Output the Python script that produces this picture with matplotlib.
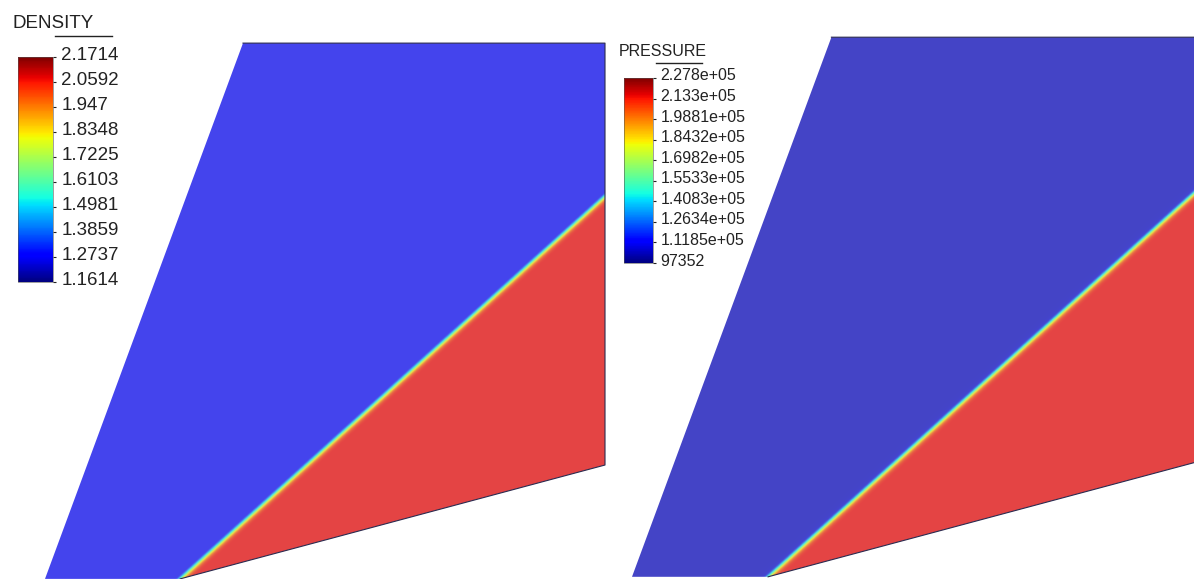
import numpy as np
import matplotlib
matplotlib.use("Agg")
import matplotlib.pyplot as plt
from matplotlib.colors import ListedColormap, Normalize
from matplotlib.patches import Polygon
from matplotlib.lines import Line2D
from matplotlib.transforms import ScaledTranslation
import matplotlib.cm as cm

plt.rcParams['font.family'] = ['Liberation Sans', 'DejaVu Sans']

# Flow domain around the wedge (tip at origin, unit = wedge chord length)
domain_x = [-0.318, 0.0, 1.0, 1.0, 0.148]
domain_y = [0.0, 0.0, 0.268, 1.261, 1.261]
shock_angle_deg = 42.0
shock_width = 0.0075

# Density field
density_ticks = [2.1714, 2.0592, 1.947, 1.8348, 1.7225, 1.6103, 1.4981, 1.3859, 1.2737, 1.1614]
density_labels = ["2.1714", "2.0592", "1.947", "1.8348", "1.7225",
                  "1.6103", "1.4981", "1.3859", "1.2737", "1.1614"]
density_upstream = 1.1614
density_downstream = 2.09

# Pressure field
pressure_ticks = [227800, 213300, 198810, 184320, 169820, 155330, 140830, 126340, 111850, 97352]
pressure_labels = ["2.278e+05", "2.133e+05", "1.9881e+05", "1.8432e+05", "1.6982e+05",
                   "1.5533e+05", "1.4083e+05", "1.2634e+05", "1.1185e+05", "97352"]
pressure_upstream = 97352
pressure_downstream = 217000

W, H = 1194, 579
fig = plt.figure(figsize=(W / 100, H / 100), dpi=100)
fig.patch.set_facecolor('white')


def px_rect(x0, y0, x1, y1):
    return [x0 / W, 1 - y1 / H, (x1 - x0) / W, (y1 - y0) / H]


def field(X, Y, up, down):
    b = np.deg2rad(shock_angle_deg)
    d = X * np.sin(b) - Y * np.cos(b)   # signed distance, positive behind the shock
    return up + (down - up) * 0.5 * (1 + np.tanh(d / shock_width))


def shaded_cmap(k_low):
    # jet rendered with flat lighting (brightened and washed out)
    x = np.linspace(0, 1, 512)
    c = plt.get_cmap('jet')(x)[:, :3]
    cn = c / c.max(axis=1, keepdims=True)
    k = np.interp(x, [0.0, 0.35, 0.75, 1.0], [k_low, 0.66, 0.66, 0.61])
    out = 0.27 + k[:, None] * cn
    return ListedColormap(np.clip(out, 0, 1))


def draw_panel(ax, up, down, vmin, vmax, k_low):
    x0, x1 = min(domain_x), max(domain_x)
    y0, y1 = min(domain_y), max(domain_y)
    gx = np.linspace(x0, x1, 1000)
    gy = np.linspace(y0, y1, 1000)
    X, Y = np.meshgrid(gx, gy)
    Z = field(X, Y, up, down)
    im = ax.imshow(Z, origin='lower', extent=[x0, x1, y0, y1], cmap=shaded_cmap(k_low),
                   vmin=vmin, vmax=vmax, interpolation='bilinear', aspect='equal')
    poly = Polygon(np.column_stack([domain_x, domain_y]), closed=True,
                   facecolor='none', edgecolor='none', transform=ax.transData)
    ax.add_patch(poly)
    im.set_clip_path(poly)
    # boundary edges: top, outlet, wedge surface
    ax.plot([domain_x[4], domain_x[3], domain_x[2], domain_x[1]],
            [domain_y[4], domain_y[3], domain_y[2], domain_y[1]],
            color='#2b2b50', lw=0.8, clip_on=False)
    ax.set_xlim(x0, x1)
    ax.set_ylim(y0, y1)
    ax.axis('off')


def draw_colorbar(rect, ticks, labels, vmin, vmax, fontsize, pad):
    cax = fig.add_axes(px_rect(*rect))
    sm = cm.ScalarMappable(norm=Normalize(vmin=vmin, vmax=vmax), cmap='jet')
    cb = fig.colorbar(sm, cax=cax, ticks=ticks)
    cb.ax.set_yticklabels(labels)
    cb.ax.tick_params(length=2, width=0.8, pad=pad, labelsize=fontsize,
                      colors='#222222')
    cb.outline.set_linewidth(0.4)
    cb.outline.set_edgecolor('#555555')
    shift = ScaledTranslation(0, 0.035, fig.dpi_scale_trans)
    for lbl in cb.ax.get_yticklabels():
        lbl.set_transform(lbl.get_transform() + shift)
    return cb


# Left panel: density
ax1 = fig.add_axes(px_rect(45, 43, 605, 579))
draw_panel(ax1, density_upstream, density_downstream,
           min(density_ticks), max(density_ticks), 0.66)

# Right panel: pressure
ax2 = fig.add_axes(px_rect(632, 37, 1196, 577))
draw_panel(ax2, pressure_upstream, pressure_downstream,
           min(pressure_ticks), max(pressure_ticks), 0.51)

# Colour legends
draw_colorbar((18, 57, 53, 282), density_ticks, density_labels,
              min(density_ticks), max(density_ticks), 13.5, 4)
fig.text(13 / W, 1 - 23 / H, "DENSITY", ha='left', va='center',
         fontsize=13.5, color='#222222')
fig.add_artist(Line2D([55 / W, 112 / W], [1 - 36 / H] * 2, color='#222222', lw=1))

draw_colorbar((624, 78, 653, 263), pressure_ticks, pressure_labels,
              min(pressure_ticks), max(pressure_ticks), 11.5, 3.5)
fig.text(619 / W, 1 - 52 / H, "PRESSURE", ha='left', va='center',
         fontsize=11.5, color='#222222')
fig.add_artist(Line2D([656 / W, 702 / W], [1 - 63 / H] * 2, color='#222222', lw=1))

fig.savefig("out.png", dpi=100, facecolor='white')
